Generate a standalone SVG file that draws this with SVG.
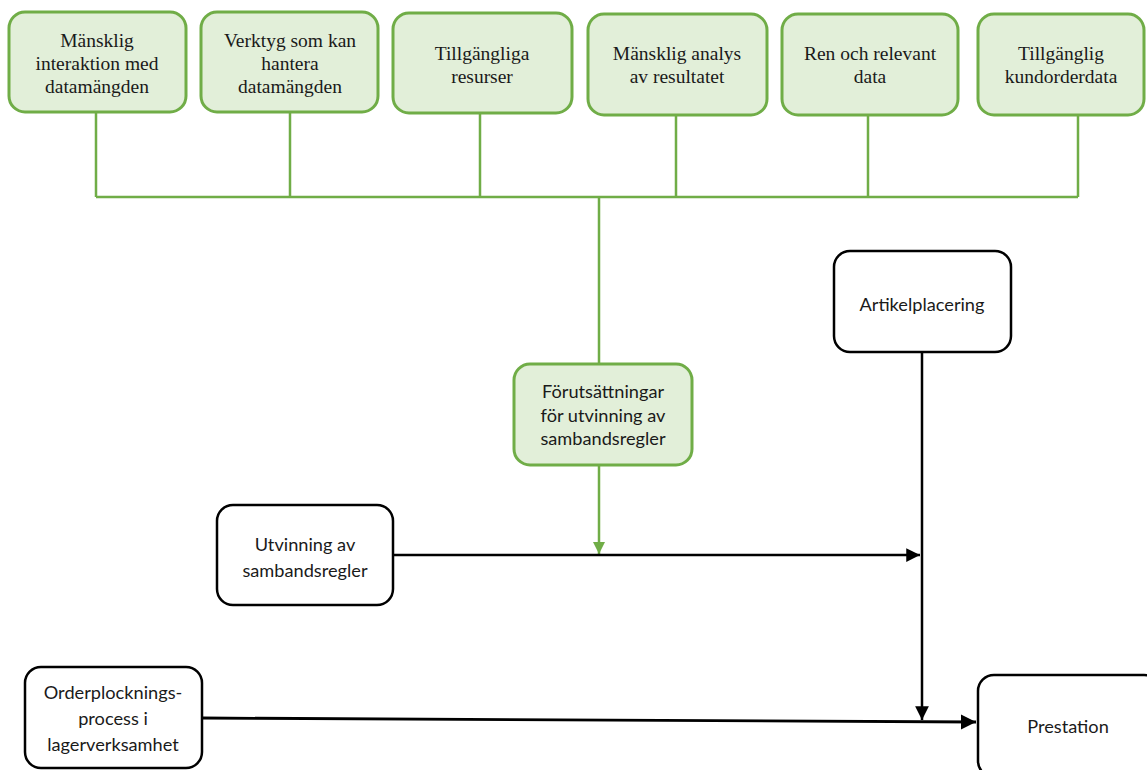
<svg xmlns="http://www.w3.org/2000/svg" width="1147" height="770" viewBox="0 0 1147 770">
<defs>
<style>
.g{fill:#e2efd9;stroke:#70ad47;stroke-width:3}
.b{fill:#fff;stroke:#000;stroke-width:2.5}
.st{font-family:"Liberation Serif","Times New Roman",serif;font-size:19.5px;fill:#1a1a1a;text-anchor:middle}
.ss{font-family:Lato,"Liberation Sans",sans-serif;font-size:18.2px;fill:#1a1a1a;text-anchor:middle}
.gl{fill:none;stroke:#70ad47;stroke-width:2.5}
.bl{fill:none;stroke:#000;stroke-width:2.5}
</style>
<marker id="ab" viewBox="0 0 10 10" refX="10" refY="5" markerWidth="5.5" markerHeight="5.5" orient="auto" markerUnits="strokeWidth"><path d="M0,0 L10,5 L0,10 z" fill="#000"/></marker>
<marker id="ag" viewBox="0 0 10 10" refX="10" refY="5" markerWidth="5" markerHeight="5" orient="auto" markerUnits="strokeWidth"><path d="M0,0 L10,5 L0,10 z" fill="#70ad47"/></marker>
</defs>
<g id="connectors">
<path class="gl" d="M96,112 V197 M290,112 V197 M480,113 V197 M676,115 V197 M868,115 V197 M1078,115 V197 M96,197 H1078 M599,197 V364"/>
<path class="gl" d="M599,465 V554" marker-end="url(#ag)"/>
<path class="bl" d="M393,555 H920" marker-end="url(#ab)"/>
<path class="bl" d="M922,352 V720" marker-end="url(#ab)"/>
<path class="bl" d="M202,718 L976,722" marker-end="url(#ab)" style="stroke-width:2.8"/>
</g>
<g id="n1"><rect class="g" x="9" y="12" width="177" height="100" rx="16"/><text class="st"><tspan x="97" y="47">Mänsklig</tspan><tspan x="97" y="70">interaktion med</tspan><tspan x="97" y="93">datamängden</tspan></text></g>
<g id="n2"><rect class="g" x="201" y="12" width="177" height="100" rx="16"/><text class="st"><tspan x="290" y="47">Verktyg som kan</tspan><tspan x="290" y="70">hantera</tspan><tspan x="290" y="93">datamängden</tspan></text></g>
<g id="n3"><rect class="g" x="393" y="13" width="179" height="100" rx="16"/><text class="st"><tspan x="482" y="60">Tillgängliga</tspan><tspan x="482" y="83">resurser</tspan></text></g>
<g id="n4"><rect class="g" x="588" y="14" width="179" height="101" rx="16"/><text class="st"><tspan x="677" y="60">Mänsklig analys</tspan><tspan x="677" y="83">av resultatet</tspan></text></g>
<g id="n5"><rect class="g" x="782" y="14" width="176" height="101" rx="16"/><text class="st"><tspan x="870" y="60">Ren och relevant</tspan><tspan x="870" y="83">data</tspan></text></g>
<g id="n6"><rect class="g" x="978" y="14" width="166" height="101" rx="16"/><text class="st"><tspan x="1061" y="60">Tillgänglig</tspan><tspan x="1061" y="83">kundorderdata</tspan></text></g>
<g id="n7"><rect class="g" x="514" y="364" width="178" height="101" rx="16"/><text class="ss"><tspan x="603" y="398">Förutsättningar</tspan><tspan x="603" y="422">för utvinning av</tspan><tspan x="603" y="445">sambandsregler</tspan></text></g>
<g id="n8"><rect class="b" x="834" y="251" width="177" height="101" rx="16"/><text class="ss" x="922" y="311">Artikelplacering</text></g>
<g id="n9"><rect class="b" x="217" y="505" width="176" height="100" rx="16"/><text class="ss"><tspan x="305" y="551">Utvinning av</tspan><tspan x="305" y="577">sambandsregler</tspan></text></g>
<g id="n10"><rect class="b" x="25" y="667" width="177" height="101" rx="16"/><text class="ss"><tspan x="113" y="699">Orderplocknings-</tspan><tspan x="113" y="725">process i</tspan><tspan x="113" y="751">lagerverksamhet</tspan></text></g>
<g id="n11"><rect class="b" x="978" y="675" width="182" height="102" rx="16"/><text class="ss" x="1068" y="733">Prestation</text></g>
</svg>
